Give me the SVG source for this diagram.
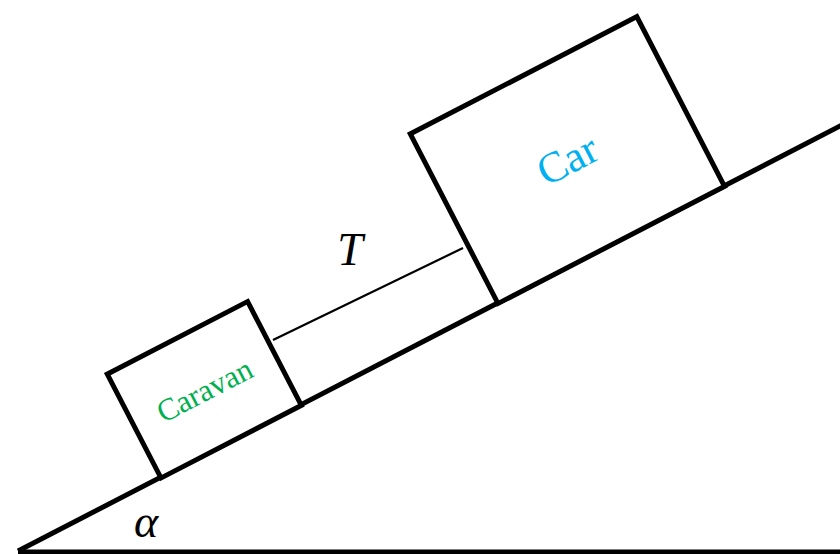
<svg xmlns="http://www.w3.org/2000/svg" width="840" height="554" viewBox="0 0 840 554">
<style>
.edge{stroke:#000;stroke-width:5;fill:none;stroke-linecap:butt}
.box{stroke:#000;stroke-width:5;fill:#fff;stroke-linejoin:miter}
.rope{stroke:#000;stroke-width:2.2;fill:none}
.lbl{font-family:"Liberation Serif","DejaVu Serif",serif;text-anchor:middle;dominant-baseline:central}
.math{font-family:"Liberation Serif","DejaVu Serif",serif;font-style:italic;font-size:46px;fill:#000;text-anchor:middle}
</style>
<g id="ground">
<line class="edge" x1="18" y1="552" x2="840" y2="552"/>
<line class="edge" x1="18" y1="551" x2="842" y2="125"/>
</g>
<g id="connectors">
<line class="rope" x1="273" y1="340" x2="463" y2="248"/>
</g>
<g id="caravan" transform="translate(161,478) rotate(-27.34)">
<rect class="box" x="0" y="-117" width="158" height="117"/>
<text class="lbl" x="79" y="-58" font-size="31" fill="#00B050">Caravan</text>
</g>
<g id="car" transform="translate(498,303.5) rotate(-27.34)">
<rect class="box" x="0" y="-191" width="255" height="191"/>
<text class="lbl" x="127.5" y="-96" font-size="43" fill="#00B0F0">Car</text>
</g>
<g id="labels">
<text class="math" x="350" y="265">T</text>
<text class="math" x="146" y="537">α</text>
</g>
</svg>
